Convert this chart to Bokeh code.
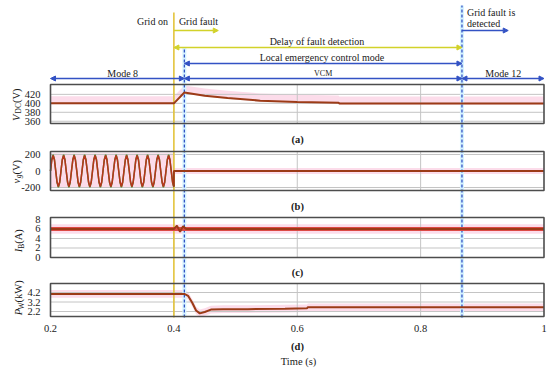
import math
from bokeh.plotting import figure
from bokeh.models import Range1d, Arrow, NormalHead
from bokeh.embed import file_html
from bokeh.resources import INLINE
from bokeh.core.properties import value

# ---------------- data ----------------
x_ticks = [0.2, 0.4, 0.6, 0.8, 1.0]
x_tick_labels = ["0.2", "0.4", "0.6", "0.8", "1"]
v_grid = [0.4, 0.6, 0.8]

t_grid_on = 0.4      # grid on / grid fault
t_vcm = 0.417        # start of local emergency control (VCM)
t_detect = 0.867     # grid fault is detected

# (a) DC-link voltage V_DC (V)
a_t = [0.2, 0.4, 0.417, 0.45, 0.487, 0.54, 0.6, 0.667, 0.668, 1.0]
a_v = [400, 400, 424, 417, 412, 406, 403, 401.5, 399.5, 399.5]
a_ticks = [360, 380, 400, 420]
a_labels = ["360", "380", "400", "420"]

# (b) grid-side voltage (V): measured (red) and reference (green), before the fault
b_t = [0.2000, 0.2021, 0.2043, 0.2064, 0.2085, 0.2106, 0.2128, 0.2149, 0.2170, 0.2191,
       0.2213, 0.2234, 0.2255, 0.2277, 0.2298, 0.2319, 0.2340, 0.2362, 0.2383, 0.2404,
       0.2426, 0.2447, 0.2468, 0.2489, 0.2511, 0.2532, 0.2553, 0.2574, 0.2596, 0.2617,
       0.2638, 0.2660, 0.2681, 0.2702, 0.2723, 0.2745, 0.2766, 0.2787, 0.2809, 0.2830,
       0.2851, 0.2872, 0.2894, 0.2915, 0.2936, 0.2957, 0.2979, 0.3000, 0.3021, 0.3043,
       0.3064, 0.3085, 0.3106, 0.3128, 0.3149, 0.3170, 0.3191, 0.3213, 0.3234, 0.3255,
       0.3277, 0.3298, 0.3319, 0.3340, 0.3362, 0.3383, 0.3404, 0.3426, 0.3447, 0.3468,
       0.3489, 0.3511, 0.3532, 0.3553, 0.3574, 0.3596, 0.3617, 0.3638, 0.3660, 0.3681,
       0.3702, 0.3723, 0.3745, 0.3766, 0.3787, 0.3809, 0.3830, 0.3851, 0.3872, 0.3894,
       0.3915, 0.3936, 0.3957, 0.3979, 0.4000]
b_v = [0, 133, 188, 133, 0, -133, -188, -133, 0, 133, 188, 133, 0, -133, -188, -133,
       0, 133, 188, 133, 0, -133, -188, -133, 0, 133, 188, 133, 0, -133, -188, -133,
       0, 133, 188, 133, 0, -133, -188, -133, 0, 133, 188, 133, 0, -133, -188, -133,
       0, 133, 188, 133, 0, -133, -188, -133, 0, 133, 188, 133, 0, -133, -188, -133,
       0, 133, 188, 133, 0, -133, -188, -133, 0, 133, 188, 133, 0, -133, -188, -133,
       0, 133, 188, 133, 0, -133, -188, -133, 0, 133, 188, 133, 0, -133, -188]
b_ref = [0, 139, 197, 139, 0, -139, -197, -139, 0, 139, 197, 139, 0, -139, -197, -139,
         0, 139, 197, 139, 0, -139, -197, -139, 0, 139, 197, 139, 0, -139, -197, -139,
         0, 139, 197, 139, 0, -139, -197, -139, 0, 139, 197, 139, 0, -139, -197, -139,
         0, 139, 197, 139, 0, -139, -197, -139, 0, 139, 197, 139, 0, -139, -197, -139,
         0, 139, 197, 139, 0, -139, -197, -139, 0, 139, 197, 139, 0, -139, -197, -139,
         0, 139, 197, 139, 0, -139, -197, -139, 0, 139, 197, 139, 0, -139, -197]
# after the fault the voltage is zero
b_after_t = [0.4, 0.4, 1.0]
b_after_v = [-188, 0, 0]
b_band_t = [0.2, 0.4, 0.4, 1.0]
b_band_lo = [-195, -195, -35, -35]
b_band_hi = [215, 215, 35, 35]
b_ticks = [-200, 0, 200]
b_labels = ["-200", "0", "200"]

# (c) battery current I_B (A)
c_t = [0.2, 0.4, 0.405, 0.41, 0.415, 0.42, 1.0]
c_v = [6.0, 6.0, 6.7, 5.4, 6.6, 6.0, 6.0]
c_ticks = [0, 2, 4, 6, 8]
c_labels = ["0", "2", "4", "6", "8"]

# (d) wind power P_W (kW)
d_t = [0.2, 0.417, 0.423, 0.43, 0.436, 0.442, 0.45, 0.46, 0.48, 0.52, 0.58, 0.616, 0.617, 1.0]
d_v = [4.05, 4.05, 3.85, 3.1, 2.3, 2.0, 2.15, 2.4, 2.45, 2.45, 2.5, 2.55, 2.65, 2.65]
d_ticks = [2.2, 3.2, 4.2]
d_labels = ["2.2", "3.2", "4.2"]

# ---------------- layout helpers ----------------
W, H = 550, 372
X0_REF, X1_REF = 50, 543.5  # px of t=0.2 and t=1.0
T0, T1 = 0.2, 1.0
sc = (T1 - T0) / (X1_REF - X0_REF)
x_start = T0 - X0_REF * sc
x_end = x_start + W * sc


def py(ref_px):
    return H - ref_px


def panel_range(top_val, bot_val, top_px, bot_px):
    k = (bot_px - top_px) / (top_val - bot_val)
    start = bot_val - (H - bot_px) / k
    end = top_val + top_px / k
    return Range1d(start, end)


SERIF = "Liberation Serif"
TXT = "#1a1a1a"
LINE = "#9c3b17"
PINK = "#fcdcea"
GRID = "#c4c4c4"
FRAME = "#4d4d4d"
YEL = "#e3c43c"
YEL_AR = "#d2d22a"
BLUE = "#3352c4"

p = figure(width=W, height=H, output_backend="svg", toolbar_location=None,
           x_range=Range1d(x_start, x_end), y_range=Range1d(0, H),
           x_axis_location=None, y_axis_location=None, min_border=0)
p.grid.visible = False
p.outline_line_color = None
p.background_fill_color = "white"

p.extra_x_ranges = {"px": Range1d(0, W)}
panels = {
    "a": (442, 355, 84, 123),
    "b": (236, -236, 151, 190),
    "c": (8.42, 0, 217, 257),
    "d": (5.147, 1.674, 283, 316),
}
p.extra_y_ranges = {k: panel_range(*v) for k, v in panels.items()}

# pink bands
p.varea(x=a_t, y1=[v - 2 for v in a_v], y2=[v + 16 for v in a_v], color=PINK, y_range_name="a")
p.varea(x=b_band_t, y1=b_band_lo, y2=b_band_hi, color=PINK, y_range_name="b")
p.varea(x=[T0, T1], y1=[5.0, 5.0], y2=[7.0, 7.0], color=PINK, y_range_name="c")
p.varea(x=d_t, y1=[v - 0.4 for v in d_v], y2=[v + 0.4 for v in d_v], color=PINK, y_range_name="d")

# grids
grids = {"a": a_ticks, "b": [-200, 200], "c": [2, 4, 6], "d": d_ticks}
for name, ticks in grids.items():
    top, bot = panels[name][0], panels[name][1]
    p.segment(x0=[T0] * len(ticks), x1=[T1] * len(ticks), y0=ticks, y1=ticks,
              line_color=GRID, line_width=1, y_range_name=name)
    p.segment(x0=v_grid, x1=v_grid, y0=[bot] * len(v_grid), y1=[top] * len(v_grid),
              line_color=GRID, line_width=1, y_range_name=name)

# event lines
p.segment(x0=[t_vcm, t_detect], x1=[t_vcm, t_detect], y0=[py(317), py(317)], y1=[py(47), py(5)],
          line_color="#d6f3ff", line_width=4)
p.segment(x0=[t_grid_on], x1=[t_grid_on], y0=[py(317)], y1=[py(12)], line_color=YEL, line_width=1.6)
p.segment(x0=[t_vcm, t_detect], x1=[t_vcm, t_detect], y0=[py(317), py(317)], y1=[py(47), py(5)],
          line_color=BLUE, line_width=1.3, line_dash="3 2")

# data lines
p.line(a_t, a_v, line_color=LINE, line_width=2, y_range_name="a")
p.line(b_t, b_ref, line_color="#4c8c2c", line_width=1.5, y_range_name="b")
p.line(b_t, b_v, line_color="#b8341c", line_width=1.5, y_range_name="b")
p.line(b_after_t, b_after_v, line_color=LINE, line_width=2, y_range_name="b")
p.varea(x=[T0, T1], y1=[5.6, 5.6], y2=[6.4, 6.4], color="#dd4a45", y_range_name="c")
p.line(c_t, c_v, line_color=LINE, line_width=2, y_range_name="c")
p.line(d_t, d_v, line_color=LINE, line_width=2, y_range_name="d")

# frames and tick labels
ticks_all = {"a": (a_ticks, a_labels), "b": (b_ticks, b_labels),
             "c": (c_ticks, c_labels), "d": (d_ticks, d_labels)}
for name, (top, bot, _, _) in panels.items():
    p.quad(left=[T0], right=[T1], top=[top], bottom=[bot], fill_color=None,
           line_color=FRAME, line_width=1.6, y_range_name=name)
    tv, tl = ticks_all[name]
    p.text(x=[T0] * len(tv), y=tv, text=tl, x_offset=-10, text_align="right",
           text_baseline="middle", text_font=value(SERIF), text_font_size="10.5px",
           text_color=TXT, y_range_name=name)

# x tick labels
p.text(x=x_ticks, y=[py(328)] * len(x_ticks), text=x_tick_labels, text_align="center",
       text_baseline="middle", text_font=value(SERIF), text_font_size="10.5px", text_color=TXT)

# y-axis titles (rotated, with subscripts)
CW = {'V': 0.722, 'D': 0.722, 'C': 0.667, 'I': 0.333, 'B': 0.667, 'P': 0.556, 'W': 0.944,
      'A': 0.722, 'k': 0.5, 'v': 0.5, 'g': 0.5, ' ': 0.25, '(': 0.333, ')': 0.333}


def tw(s, size):
    return sum(CW.get(ch, 0.5) for ch in s) * size


def vlabel(pieces, xb, yc):
    total = sum(tw(s, sz) for s, sz, it, dx in pieces)
    y = py(yc) - total / 2
    for s, sz, it, dx in pieces:
        p.text(x=[xb + dx], y=[y], text=[s], angle=math.pi / 2,
               text_align="left", text_baseline="alphabetic", text_font=value(SERIF),
               text_font_size=f"{sz}px", text_font_style="italic" if it else "normal",
               text_color=TXT, x_range_name="px")
        y += tw(s, sz)


vlabel([("V", 10.5, True, 0), ("DC", 7.5, False, 2.5), (" (V)", 10.5, False, 0)], 15.5, 103)
vlabel([("v", 10.5, True, 0), ("g", 7.5, True, 2.5), (" (V)", 10.5, False, 0)], 15.5, 170)
vlabel([("I", 10.5, True, 0), ("B", 7.5, False, 2.5), (" (A)", 10.5, False, 0)], 18, 239)
vlabel([("P", 10.5, True, 0), ("W", 7.5, False, 2.5), (" (kW)", 10.5, False, 0)], 18, 296)

# panel captions
p.text(x=[297] * 4, y=[py(139), py(206), py(272), py(346)], text=["(a)", "(b)", "(c)", "(d)"],
       text_align="center", text_baseline="middle", text_font=value(SERIF),
       text_font_size="10.5px", text_font_style="bold", text_color=TXT, x_range_name="px")
p.text(x=[298], y=[py(361)], text=["Time (s)"], text_align="center", text_baseline="middle",
       text_font=value(SERIF), text_font_size="10.5px", text_color=TXT, x_range_name="px")


# annotation texts
def note(t, ref_y, s, align="center", xoff=0, size="10px"):
    p.text(x=[t], y=[py(ref_y)], text=[s], text_align=align, text_baseline="middle",
           x_offset=xoff, text_font=value(SERIF), text_font_size=size, text_color=TXT)


note(t_grid_on, 21, "Grid on", "right", -6)
note(t_grid_on, 21, "Grid fault", "left", 5)
note(0.632, 41, "Delay of fault detection")
note(0.644, 57, "Local emergency  control  mode")
note(0.317, 73, "Mode 8")
note(0.642, 73, "VCM", size="8px")
note(0.934, 73, "Mode 12")
note(t_detect, 12, "Grid fault is", "left", 5)
note(t_detect, 23, "detected", "left", 5)


# arrows
def arrow(t0, t1, ref_y, color, both=True):
    head = dict(size=5, fill_color=color, line_color=color)
    p.add_layout(Arrow(x_start=t0, y_start=py(ref_y), x_end=t1, y_end=py(ref_y),
                       start=NormalHead(**head) if both else None, end=NormalHead(**head),
                       line_color=color, line_width=1.3))


arrow(t_grid_on, 0.472, 30, YEL_AR, both=False)
arrow(t_grid_on, t_detect, 47, YEL_AR)
arrow(t_vcm, t_detect, 63, BLUE)
arrow(T0, t_vcm, 78, BLUE)
arrow(t_vcm, t_detect, 78, BLUE)
arrow(t_detect, T1, 78, BLUE)
arrow(t_detect, 0.942, 30, BLUE, both=False)

open("out.html", "w").write(file_html(p, INLINE))
